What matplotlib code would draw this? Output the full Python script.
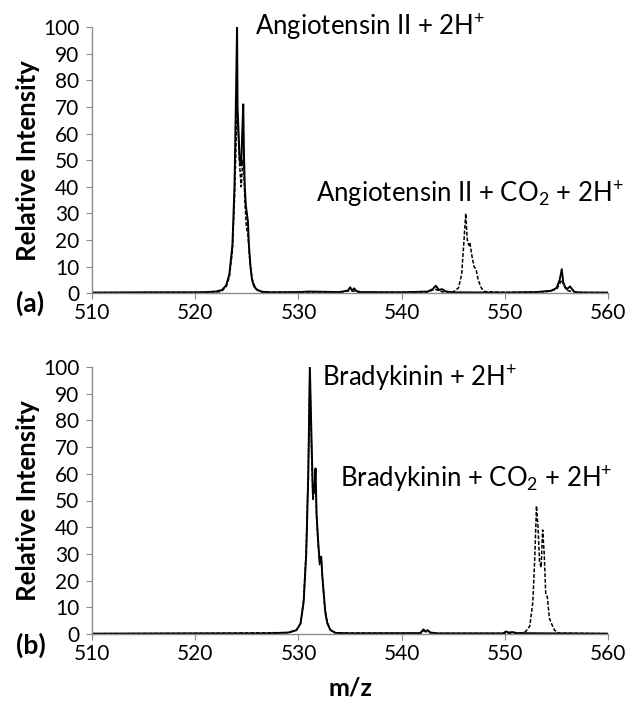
import matplotlib
matplotlib.use("Agg")
import matplotlib.pyplot as plt

plt.rcParams['font.family'] = ['Lato', 'DejaVu Sans']
plt.rcParams['mathtext.fontset'] = 'custom'
plt.rcParams['mathtext.rm'] = 'Lato'
plt.rcParams['mathtext.it'] = 'Lato'

# panel (a) - Angiotensin II, solid trace
a_solid_mz = [510, 515, 520, 521, 522, 522.6, 523.0, 523.3, 523.6, 523.8, 523.95, 524.05,
              524.1, 524.2, 524.3, 524.45, 524.55, 524.65, 524.72, 524.8, 524.9, 525.0,
              525.1, 525.2, 525.35, 525.5, 525.7, 526.0, 526.5, 527.5, 530, 531, 534,
              534.8, 535.0, 535.2, 535.4, 535.6, 536, 540, 542.5, 543.0, 543.3, 543.6,
              543.9, 544.3, 545, 550, 553, 554.5, 555.0, 555.3, 555.5, 555.65, 555.8,
              556.0, 556.3, 556.5, 556.7, 557, 558, 560]
a_solid_int = [0.2, 0.3, 0.3, 0.4, 0.6, 1.2, 3, 7, 18, 40, 75, 100,
               70, 60, 50, 48, 60, 71, 52, 40, 33, 30,
               27, 18, 10, 5, 2.5, 1.2, 0.5, 0.3, 0.4, 0.6, 0.4,
               1.0, 2.2, 1.0, 1.8, 0.8, 0.4, 0.3, 0.6, 1.5, 2.8, 1.2,
               1.5, 0.6, 0.3, 0.2, 0.4, 0.9, 2, 5, 9, 4, 2.5,
               1.5, 2.5, 1.5, 0.6, 0.3, 0.2, 0.2]

# panel (a) - dashed trace (CO2 adduct)
a_dash_mz = [510, 520, 522.5, 523, 523.3, 523.6, 523.8, 523.95, 524.05, 524.15, 524.3,
             524.45, 524.6, 524.7, 524.8, 524.95, 525.1, 525.25, 525.4, 525.6, 525.9,
             526.5, 534, 535, 536, 542.5, 543.2, 544, 545.0, 545.5, 545.8, 546.0, 546.2,
             546.35, 546.5, 546.6, 546.8, 547.0, 547.2, 547.4, 547.7, 548, 550, 554,
             555, 555.3, 555.5, 555.7, 556, 557, 560]
a_dash_int = [0.2, 0.3, 0.5, 2.5, 6, 16, 35, 55, 68, 62, 48,
              40, 50, 48, 35, 25, 22, 14, 8, 4, 1.5,
              0.4, 0.3, 1.0, 0.3, 0.4, 1.5, 0.4, 0.5, 2, 7, 18, 30,
              20, 18, 19, 14, 10, 9, 5, 2, 0.6, 0.3, 0.5,
              1.5, 3.5, 5, 3, 1, 0.3, 0.2]

# panel (b) - Bradykinin, solid trace
b_solid_mz = [510, 520, 527, 529, 529.8, 530.2, 530.5, 530.75, 530.95, 531.1, 531.25,
              531.4, 531.55, 531.65, 531.75, 531.9, 532.05, 532.2, 532.3, 532.45, 532.6,
              532.8, 533.1, 533.6, 535, 541.8, 542.1, 542.3, 542.5, 542.8, 543.5, 549.8,
              550.1, 550.4, 550.7, 551.2, 555, 560]
b_solid_int = [0.2, 0.3, 0.3, 0.6, 1.5, 4, 12, 30, 60, 100, 75,
               52, 55, 62, 45, 35, 27, 29, 22, 15, 8,
               4, 1.5, 0.5, 0.3, 0.4, 1.8, 1.0, 1.5, 0.6, 0.3, 0.3,
               1.0, 0.6, 0.8, 0.4, 0.3, 0.2]

# panel (b) - dashed trace
b_dash_mz = [510, 520, 529, 529.8, 530.2, 530.5, 530.75, 530.95, 531.1, 531.25, 531.4,
             531.55, 531.65, 531.75, 531.9, 532.05, 532.2, 532.35, 532.5, 532.7, 533,
             533.5, 541.8, 542.2, 542.5, 543, 550, 551.5, 552, 552.4, 552.7, 552.9,
             553.05, 553.2, 553.35, 553.5, 553.65, 553.8, 553.95, 554.1, 554.3, 554.5,
             554.8, 555.2, 560]
b_dash_int = [0.2, 0.3, 0.6, 1.5, 4, 13, 32, 62, 98, 70, 50,
              54, 61, 44, 34, 26, 28, 20, 12, 6, 2,
              0.5, 0.3, 1.2, 0.8, 0.3, 0.3, 0.4, 1.0, 3, 12, 30,
              48, 40, 27, 25, 39, 30, 15, 14, 6, 4,
              1.5, 0.4, 0.2]

xticks = [510, 520, 530, 540, 550, 560]
yticks = [0, 10, 20, 30, 40, 50, 60, 70, 80, 90, 100]

fig = plt.figure(figsize=(6.28, 7.15), dpi=100)
ax_a = fig.add_axes([0.1465, 0.590, 0.822, 0.372])
ax_b = fig.add_axes([0.1465, 0.113, 0.822, 0.374])

panels = [
    (ax_a, a_solid_mz, a_solid_int, a_dash_mz, a_dash_int, '(a)',
     [(525.8, 97, r'Angiotensin II + 2H$^{+}$'),
      (531.7, 34, r'Angiotensin II + CO$_{2}$ + 2H$^{+}$')]),
    (ax_b, b_solid_mz, b_solid_int, b_dash_mz, b_dash_int, '(b)',
     [(532.3, 92.5, r'Bradykinin + 2H$^{+}$'),
      (534.0, 55, r'Bradykinin + CO$_{2}$ + 2H$^{+}$')]),
]

for ax, smz, sint, dmz, dint, tag, notes in panels:
    ax.plot(dmz, dint, color='black', lw=1.1, ls=(0, (2.5, 1.2)))
    ax.plot(smz, sint, color='black', lw=1.4)
    ax.set_xlim(510, 560)
    ax.set_ylim(0, 100)
    ax.set_xticks(xticks)
    ax.set_yticks(yticks)
    for s in ['top', 'right']:
        ax.spines[s].set_visible(False)
    for s in ['left', 'bottom']:
        ax.spines[s].set_color('#8c8c8c')
        ax.spines[s].set_linewidth(1.0)
    ax.tick_params(axis='both', colors='#8c8c8c', labelcolor='black',
                   labelsize=15, length=4, direction='out')
    ax.tick_params(axis='x', pad=3)
    ax.tick_params(axis='y', pad=5)
    ax.set_ylabel('Relative Intensity', fontsize=18.5, fontweight='bold', labelpad=2)
    for x, y, txt in notes:
        ax.text(x, y, txt, fontsize=18.5, ha='left', va='baseline', clip_on=False)
    ax.text(-0.148, -0.04, tag, transform=ax.transAxes, fontsize=19,
            fontweight='bold', ha='left', va='center')

ax_b.set_xlabel('m/z', fontsize=18, fontweight='bold', labelpad=9)

fig.savefig('out.png', dpi=100)
